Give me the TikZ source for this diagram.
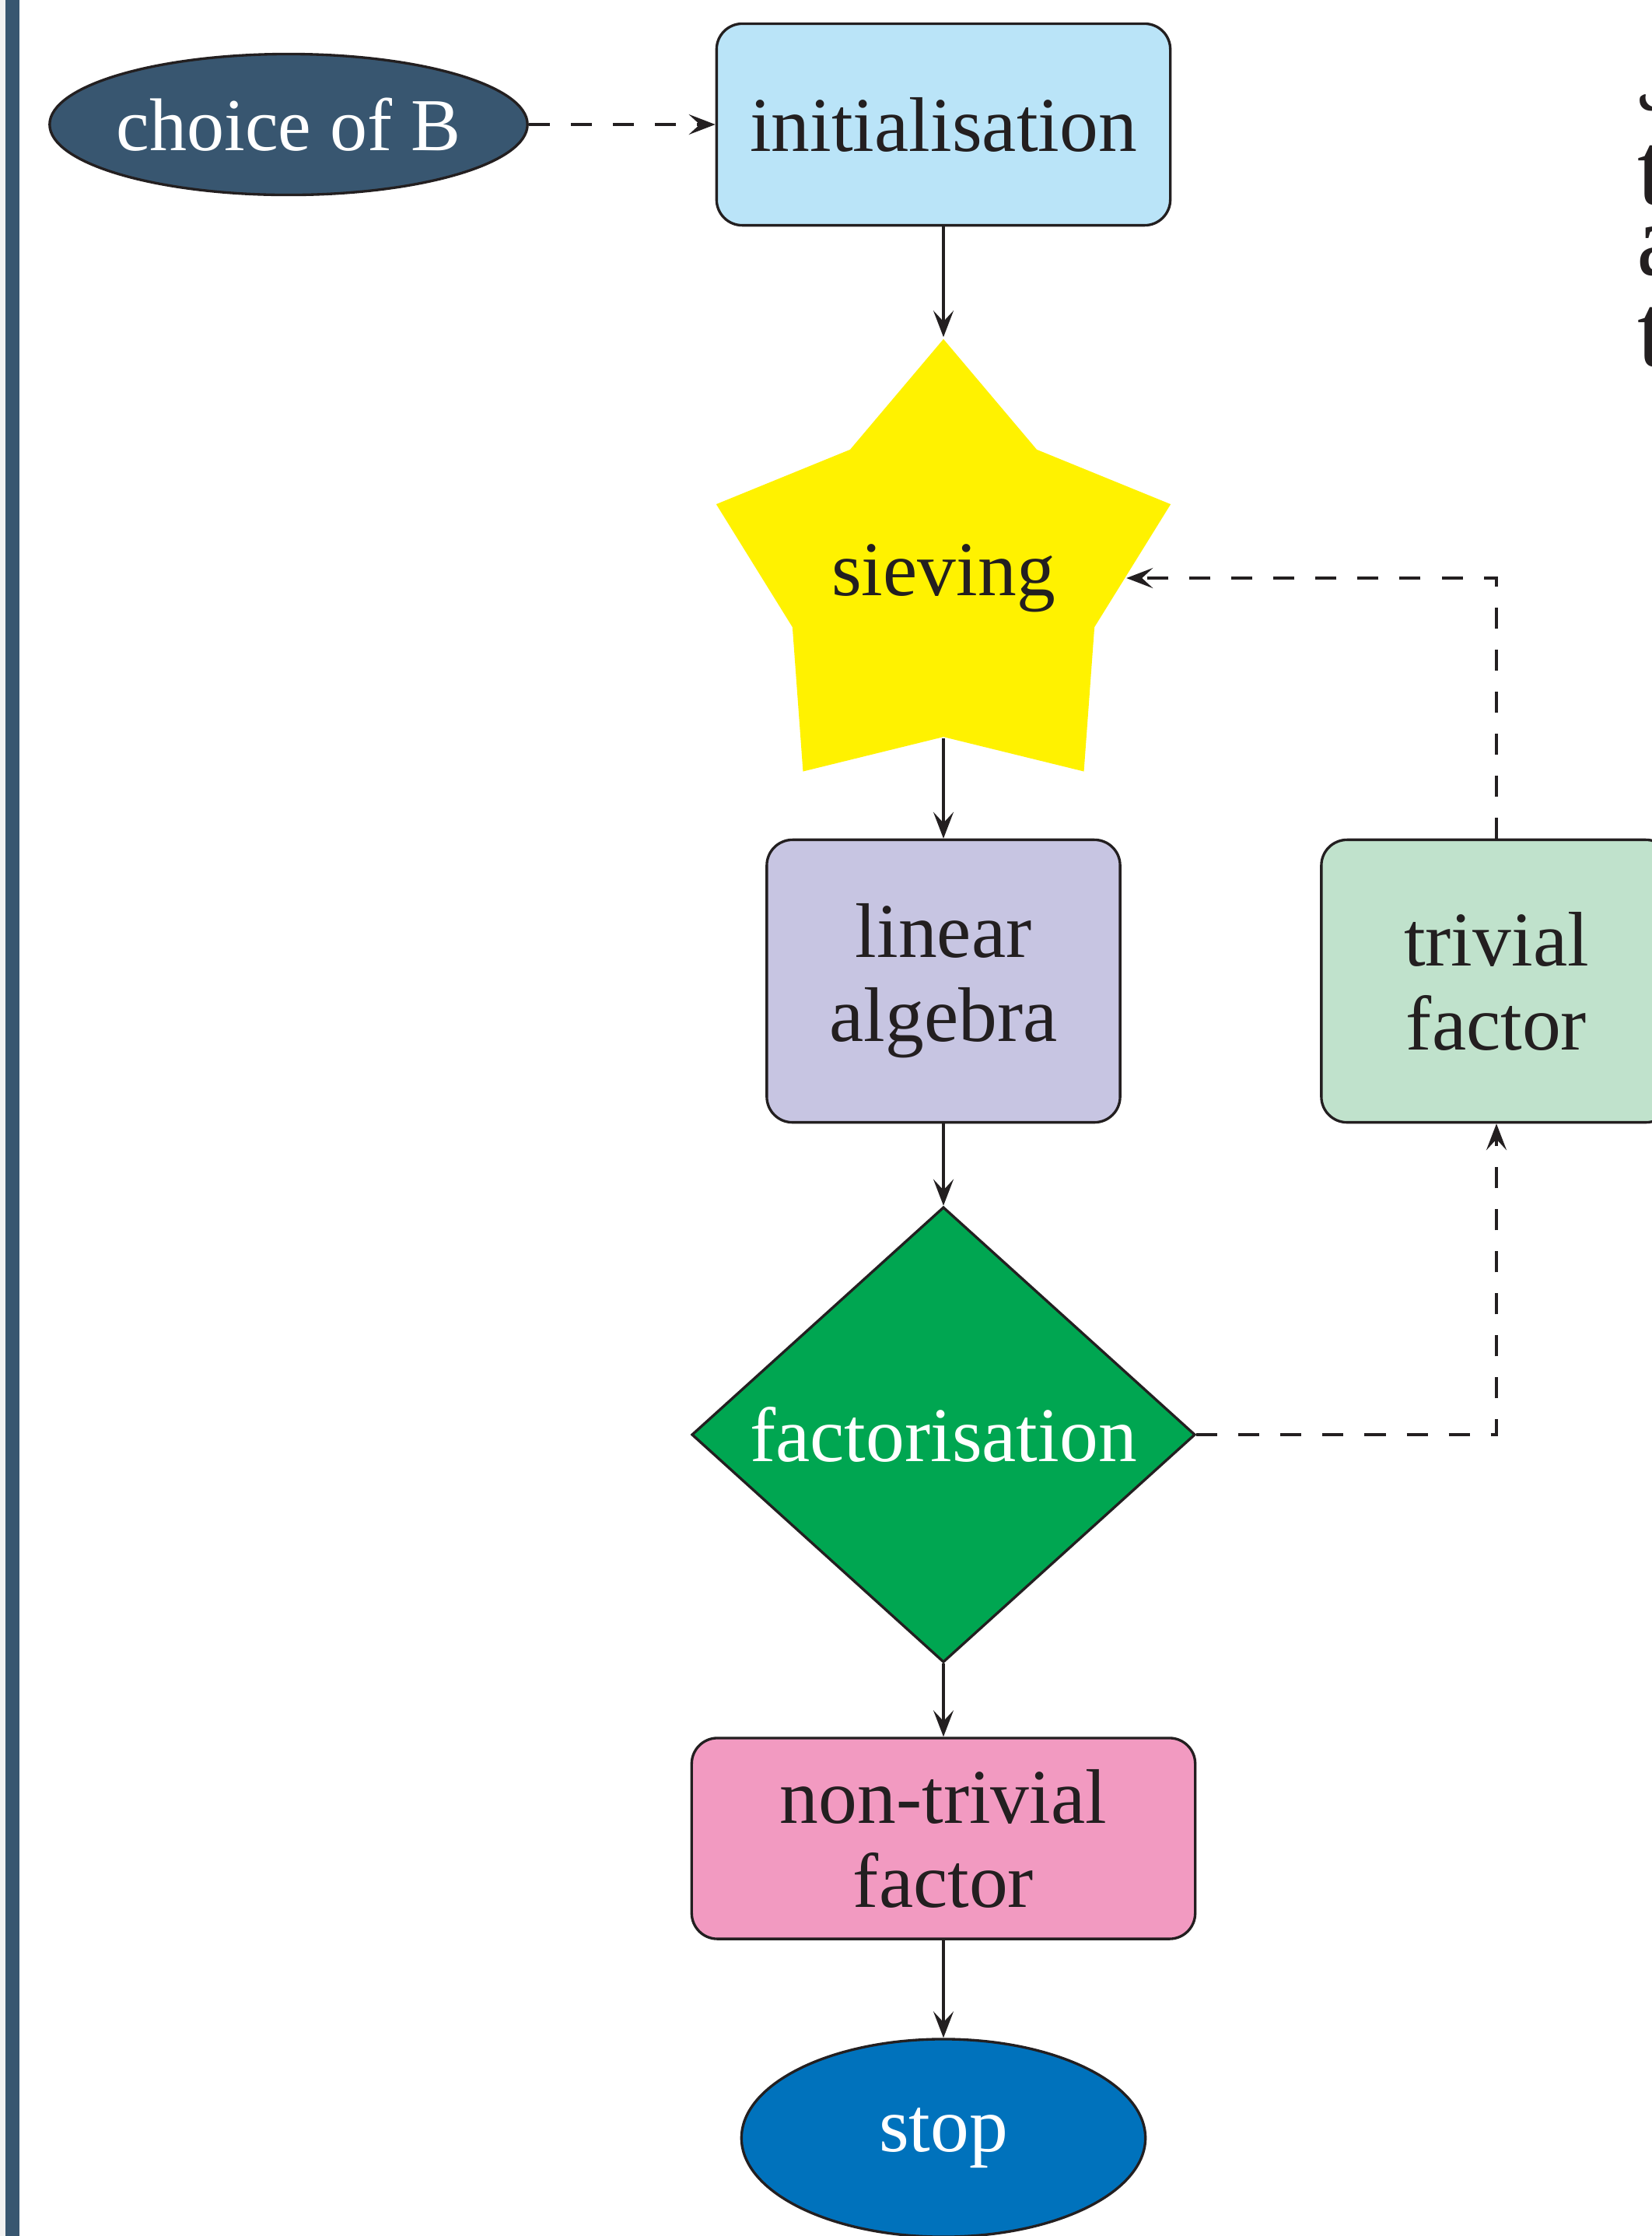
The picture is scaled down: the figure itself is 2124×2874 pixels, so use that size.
\documentclass[tikz,border=0pt]{standalone}
\usepackage{fontspec}
\setmainfont{Liberation Serif}
\usetikzlibrary{shapes.geometric,arrows.meta}
\definecolor{inkc}{RGB}{35,31,32}
\definecolor{initc}{RGB}{186,228,248}
\definecolor{linc}{RGB}{199,197,226}
\definecolor{trivc}{RGB}{192,226,204}
\definecolor{factc}{RGB}{0,166,81}
\definecolor{ntfc}{RGB}{242,154,193}
\definecolor{stopc}{RGB}{0,114,188}
\definecolor{slatec}{RGB}{56,86,112}
\definecolor{yelc}{RGB}{255,242,0}
\definecolor{stripc}{RGB}{242,242,242}
\tikzset{
  base/.style={line width=0.95pt, draw=inkc, inner sep=0pt, align=center,
    font=\fontsize{28.3}{30.7}\selectfont, text=inkc},
  boxnode/.style={base, rectangle, rounded corners=0.33cm},
  ellnode/.style={base, ellipse, text=white},
  arr/.style={line width=0.95pt, draw=inkc, -{Stealth[length=3.4mm,width=2.6mm,inset=1.4mm]}},
  darr/.style={arr, dash pattern=on 2.7mm off 2.7mm},
  frag/.style={anchor=base west, inner sep=0pt, font=\fontsize{38}{40}\selectfont, text=inkc},
}
\begin{document}
\begin{tikzpicture}[x=0.01cm,y=-0.01cm]
\useasboundingbox (0,0) rectangle (2124,2874);
\clip (0,0) rectangle (2124,2874);
\fill[white] (0,0) rectangle (2124,2874);
\fill[stripc] (0,0) rectangle (7,2874);
\fill[slatec] (7,0) rectangle (25,2874);

% cut-off text at right edge
\node[frag] (fragA) at (2104,132) {$\mathcal{J}$};
\node[frag] (fragB) at (2105,262) {t};
\node[frag] (fragC) at (2104,353) {a};
\node[frag] (fragD) at (2105,470) {t};

\node[ellnode, fill=slatec, minimum width=6.14cm, minimum height=1.81cm, font=\fontsize{27.3}{30.7}\selectfont] (choice) at (371,160) {\makebox[0pt]{choice of B}};
\node[boxnode, fill=initc, minimum width=5.83cm, minimum height=2.59cm] (init) at (1213,160) {initialisation};
\node[base, draw=none, star, star points=5, star point ratio=1.505, minimum size=6.14cm, fill=yelc] (sieve) at (1213,743) {sieving};
\node[boxnode, fill=linc, minimum width=4.54cm, minimum height=3.63cm] (lin) at (1213,1261) {linear\\algebra};
\node[boxnode, fill=trivc, minimum width=4.50cm, minimum height=3.63cm] (triv) at (1924,1261) {trivial\\factor};
\node[base, diamond, aspect=1.106, fill=factc, text=white, minimum width=6.47cm, minimum height=5.85cm] (fact) at (1213,1844) {factorisation};
\node[boxnode, fill=ntfc, minimum width=6.47cm, minimum height=2.58cm] (ntf) at (1213,2363) {non-trivial\\factor};
\node[ellnode, fill=stopc, minimum width=5.19cm, minimum height=2.54cm] (stop) at (1213,2748) {stop};

\draw[darr] (choice.east) -- (init.west);
\draw[arr] (init.south) -- (sieve.outer point 1);
\draw[arr] (sieve.inner point 3) -- (lin.north);
\draw[arr] (lin.south) -- (fact.north);
\draw[arr] (fact.south) -- (ntf.north);
\draw[arr] (ntf.south) -- (stop.north);
\draw[darr] (fact.east) -| (triv.south);
\draw[darr] (triv.north) |- (sieve.east);
\end{tikzpicture}
\end{document}
